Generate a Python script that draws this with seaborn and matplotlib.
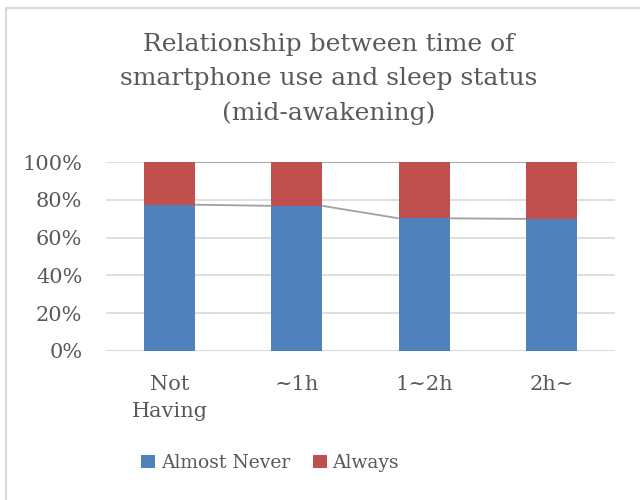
import matplotlib
matplotlib.use("Agg")
import matplotlib.pyplot as plt
from matplotlib.lines import Line2D
from matplotlib.patches import Patch
import seaborn as sns
import pandas as pd

categories = ["Not\nHaving", "~1h", "1~2h", "2h~"]
almost_never = [77.4, 76.8, 70.2, 69.9]
always = [22.6, 23.2, 29.8, 30.1]
y_ticks = [0, 20, 40, 60, 80, 100]
y_tick_labels = ["0%", "20%", "40%", "60%", "80%", "100%"]
series_names = ["Almost Never", "Always"]

BLUE = "#4F81BD"
RED = "#C0504D"
TEXT = "#595959"
GRID = "#D9D9D9"

sns.set_theme(style="white")
plt.rcParams["font.family"] = ["DejaVu Serif"]

df = pd.DataFrame({"category": categories,
                   "never": almost_never,
                   "total": [a + b for a, b in zip(almost_never, always)]})

fig = plt.figure(figsize=(6.4, 5.0), dpi=100)
ax = fig.add_axes([106 / 640, 1 - 351 / 500, (615 - 106) / 640, (351 - 162) / 500])

# stacked bars: full height in red, lower segment in blue on top
sns.barplot(data=df, x="category", y="total", color=RED, width=0.4,
            saturation=1, ax=ax, zorder=2, linewidth=0)
n_first = len(ax.patches)
sns.barplot(data=df, x="category", y="never", color=BLUE, width=0.4,
            saturation=1, ax=ax, zorder=3, linewidth=0)
bars = ax.patches[n_first:]

# series lines joining the segment tops of neighbouring bars
for i in range(len(bars) - 1):
    x0 = bars[i].get_x() + bars[i].get_width()
    x1 = bars[i + 1].get_x()
    ax.plot([x0, x1], [almost_never[i], almost_never[i + 1]],
            color="#A0A0A0", lw=1.3, zorder=4, solid_capstyle="butt")
    ax.plot([x0, x1], [df["total"][i], df["total"][i + 1]],
            color="#A0A0A0", lw=1.3, zorder=4, solid_capstyle="butt")

ax.set_ylim(0, 100)
ax.set_xlim(-0.5, len(categories) - 0.5)
ax.set_yticks(y_ticks)
ax.set_yticklabels(y_tick_labels)
ax.yaxis.grid(True, color=GRID, lw=1.2, zorder=0)
ax.set_axisbelow(True)
for s in ax.spines.values():
    s.set_visible(False)
ax.axhline(0, color=GRID, lw=1.2, zorder=1)
ax.set_xlabel("")
ax.set_ylabel("")
ax.tick_params(axis="y", length=0, pad=17, labelsize=15, labelcolor=TEXT)
ax.tick_params(axis="x", length=0, pad=17, labelsize=15, labelcolor=TEXT)
for lbl in ax.get_xticklabels():
    lbl.set_linespacing(1.58)

fig.text(0.513, 0.934,
         "Relationship between time of\nsmartphone use and sleep status\n(mid-awakening)",
         ha="center", va="top", fontsize=18, color=TEXT, linespacing=1.61)

handles = [Patch(facecolor=BLUE, edgecolor="none"),
           Patch(facecolor=RED, edgecolor="none")]
fig.legend(handles, series_names, loc="center", bbox_to_anchor=(270 / 640, 1 - 463 / 500),
           ncol=2, frameon=False, fontsize=13.5, labelcolor=TEXT,
           handlelength=0.75, handleheight=0.75, handletextpad=0.3, columnspacing=1.2)

# chart border (left and top edges)
fig.add_artist(Line2D([6 / 640, 6 / 640], [0, 1 - 8 / 500], color=GRID, lw=1.5))
fig.add_artist(Line2D([6 / 640, 1], [1 - 8 / 500, 1 - 8 / 500], color=GRID, lw=1.5))

fig.savefig("out.png", dpi=100, facecolor="white")
